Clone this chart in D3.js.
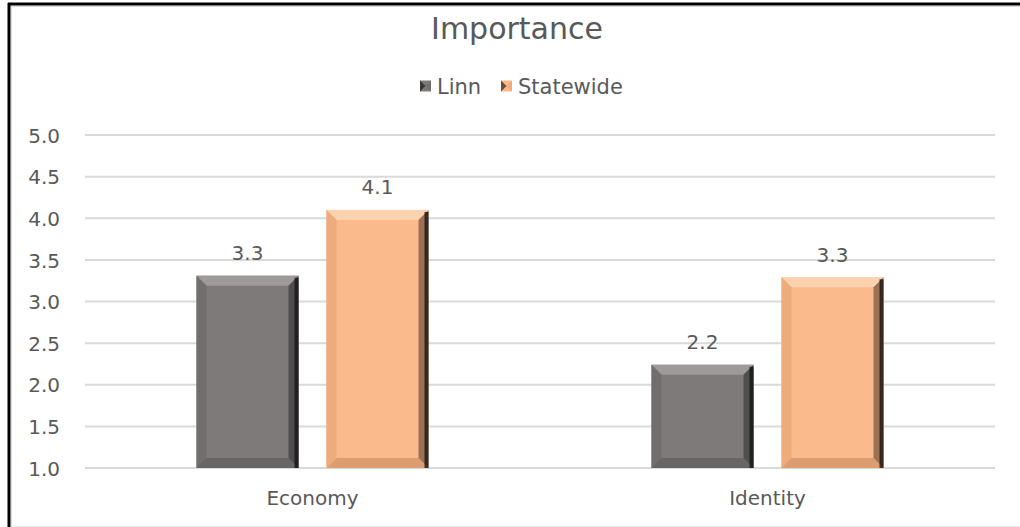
<!DOCTYPE html>
<html><head><meta charset="utf-8">
<script src="https://cdn.jsdelivr.net/npm/d3@7"></script>
<style>
html,body{margin:0;padding:0;background:#fff;}
svg{display:block;}
text{font-family:"DejaVu Sans",Verdana,sans-serif;fill:#595959;}
</style></head>
<body>
<script>
const categories = ["Economy", "Identity"];
const seriesNames = ["Linn", "Statewide"];
const linnValues = [3.31, 2.24];
const statewideValues = [4.1, 3.29];
const yTicks = [1.0, 1.5, 2.0, 2.5, 3.0, 3.5, 4.0, 4.5, 5.0];
const title = "Importance";

const W = 1020, H = 527;
const svg = d3.select("body").append("svg").attr("width", W).attr("height", H);

// frame
svg.append("line").attr("x1", 9).attr("x2", 9).attr("y1", 3).attr("y2", H).attr("stroke", "#000").attr("stroke-width", 3);
svg.append("line").attr("x1", 8).attr("x2", W).attr("y1", 4).attr("y2", 4).attr("stroke", "#000").attr("stroke-width", 3);
svg.append("line").attr("x1", 11.5).attr("x2", 11.5).attr("y1", 6).attr("y2", H).attr("stroke", "#d9d9d9").attr("stroke-width", 1);
svg.append("line").attr("x1", 11).attr("x2", W).attr("y1", 6.5).attr("y2", 6.5).attr("stroke", "#d9d9d9").attr("stroke-width", 1);
svg.append("line").attr("x1", 11).attr("x2", W).attr("y1", 526.5).attr("y2", 526.5).attr("stroke", "#e6e6e6").attr("stroke-width", 1);

const plot = {left: 85, right: 995, top: 135, bottom: 468};
const y = d3.scaleLinear().domain([1, 5]).range([plot.bottom, plot.top]);
const x0 = d3.scaleBand().domain(categories).range([plot.left, plot.right]);
const x1 = d3.scaleBand().domain(seriesNames).range([0, 232]).paddingInner(0.215);

const colors = {
  Linn: {main: "#7e7a7a", top: "#9e9a9a", left: "#726e6e", right: "#2a2828", bottom: "#5a5757"},
  Statewide: {main: "#fbba8b", top: "#fdd2ae", left: "#eeab7b", right: "#4a3426", bottom: "#c88c60"}
};

// y axis labels
const yAxis = d3.axisLeft(y).tickValues(yTicks).tickFormat(d3.format(".1f")).tickSize(0).tickPadding(0);
const gy = svg.append("g").attr("transform", `translate(${plot.left - 25},0)`).call(yAxis);
gy.select(".domain").remove();
gy.selectAll("text").style("font-size", "20px").style("font-family", "'DejaVu Sans'").attr("fill", "#595959").attr("dy", "0.36em");

// gridlines
svg.append("g").selectAll("line").data(yTicks).join("line")
  .attr("x1", plot.left).attr("x2", plot.right)
  .attr("y1", d => y(d)).attr("y2", d => y(d))
  .attr("stroke", "#d9d9d9").attr("stroke-width", 2);

// bars
const data = [];
categories.forEach((c, i) => {
  data.push({cat: c, s: "Linn", v: linnValues[i]});
  data.push({cat: c, s: "Statewide", v: statewideValues[i]});
});
const bev = 10;
const bars = svg.append("g").selectAll("g").data(data).join("g")
  .attr("transform", d => `translate(${x0(d.cat) + x0.bandwidth() / 2 - 116 + x1(d.s)},0)`);
bars.each(function(d) {
  const g = d3.select(this);
  const w = x1.bandwidth();
  const yt = y(d.v), yb = y(1);
  const c = colors[d.s];
  g.append("rect").attr("x", 0).attr("y", yt).attr("width", w).attr("height", yb - yt).attr("fill", c.main);
  const b = Math.min(bev, (yb - yt) / 2);
  g.append("path").attr("d", `M0,${yt}L${w},${yt}L${w - b},${yt + b}L${b},${yt + b}Z`).attr("fill", c.top);
  g.append("path").attr("d", `M0,${yt}L${b},${yt + b}L${b},${yb - b}L0,${yb}Z`).attr("fill", c.left);
  g.append("path").attr("d", `M${w},${yt}L${w},${yb}L${w - b},${yb - b}L${w - b},${yt + b}Z`).attr("fill", c.right).attr("opacity", 0.55);
  g.append("path").attr("d", `M0,${yb}L${w},${yb}L${w - b},${yb - b}L${b},${yb - b}Z`).attr("fill", c.bottom).attr("opacity", 0.6);
  g.append("line").attr("x1", w - 2).attr("x2", w - 2).attr("y1", yt + 2).attr("y2", yb).attr("stroke", "#111").attr("stroke-width", 4).attr("opacity", 0.75);
  g.append("text").attr("x", w / 2).attr("y", yt - 23).attr("text-anchor", "middle").attr("dy", "0.36em")
    .style("font-size", "20px").text(d3.format(".1f")(d.v));
});

// x axis labels
svg.append("g").selectAll("text").data(categories).join("text")
  .attr("x", d => x0(d) + x0.bandwidth() / 2).attr("y", 498).attr("dy", "0.36em")
  .attr("text-anchor", "middle").style("font-size", "20px").text(d => d);

// title
svg.append("text").attr("x", 517).attr("y", 28).attr("dy", "0.36em").attr("text-anchor", "middle")
  .style("font-size", "30px").text(title);

// legend
const legendX = [420, 501];
const lg = svg.append("g").selectAll("g").data(seriesNames).join("g")
  .attr("transform", (d, i) => `translate(${legendX[i]},86)`);
lg.each(function(d) {
  const g = d3.select(this);
  const c = colors[d];
  const s = 11;
  g.append("rect").attr("x", 0).attr("y", -s / 2).attr("width", s).attr("height", s).attr("fill", c.main);
  g.append("path").attr("d", `M0,${-s/2}L${s/2},0L0,${s/2}Z`).attr("fill", c.right).attr("opacity", 0.8);
  g.append("path").attr("d", `M${s},${-s/2}L${s/2},0L${s},${s/2}Z`).attr("fill", c.left);
  g.append("text").attr("x", s + 6).attr("y", 0).attr("dy", "0.36em").style("font-size", "21px").text(d);
});
</script>
</body></html>
